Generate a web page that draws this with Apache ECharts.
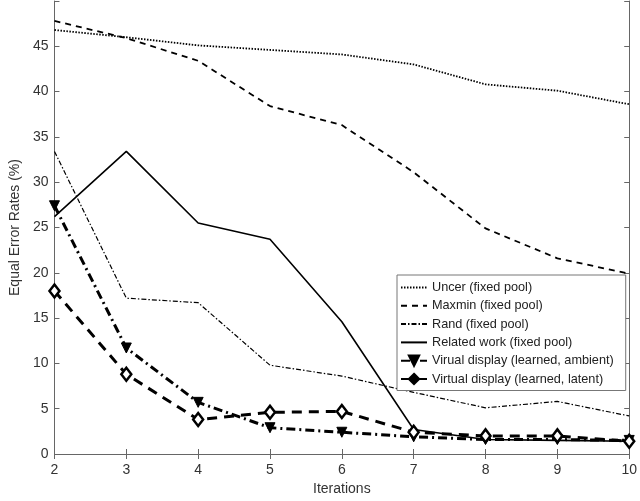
<!DOCTYPE html>
<html>
<head>
<meta charset="utf-8">
<script src="https://cdn.jsdelivr.net/npm/echarts@6/dist/echarts.min.js"></script>
<style>
  html, body { margin: 0; padding: 0; background: #fff; }
  #chart { width: 640px; height: 501px; }
</style>
</head>
<body>
<div id="chart"></div>
<script>
// iterations on x
const iterations = [2, 3, 4, 5, 6, 7, 8, 9, 10]

// equal error rates (%)
const uncer = [46.8, 46.0, 45.1, 44.6, 44.1, 43.0, 40.8, 40.1, 38.6]
const maxmin = [47.8, 45.9, 43.4, 38.4, 36.3, 31.1, 24.9, 21.6, 19.9]
const rand = [33.4, 17.2, 16.7, 9.8, 8.6, 6.8, 5.1, 5.8, 4.2]
const related = [26.2, 33.4, 25.5, 23.7, 14.6, 2.7, 1.6, 1.5, 1.4]
const ambient = [27.4, 11.7, 5.7, 2.9, 2.4, 1.9, 1.6, 1.6, 1.5]
const latent = [18.0, 8.8, 3.8, 4.6, 4.7, 2.4, 2.0, 2.0, 1.4]

const yTicks = [0, 5, 10, 15, 20, 25, 30, 35, 40, 45]

const names = [
  'Uncer (fixed pool)',
  'Maxmin (fixed pool)',
  'Rand (fixed pool)',
  'Related work (fixed pool)',
  'Virual display (learned, ambient)',
  'Virtual display (learned, latent)'
]

const pairs = vals => iterations.map((x, i) => [x, vals[i]])

const chart = echarts.init(document.getElementById('chart'))

const axisColor = '#666'
const labelColor = '#333'
const font = 'Liberation Sans, Arial, sans-serif'

// plain line series (no markers)
const plain = (name, vals, type, width) => ({
  name,
  type: 'line',
  data: pairs(vals),
  symbol: 'none',
  lineStyle: { color: '#000', width: width, type: type },
  itemStyle: { color: '#000' },
  z: 2
})

// hide the dot echarts puts on legend lines for series without markers
const hideDot = { color: 'transparent', borderColor: 'transparent', borderWidth: 0 }

chart.setOption({
  animation: false,
  backgroundColor: '#fff',
  grid: { left: 40, right: 7, top: 1, bottom: 46 },
  xAxis: [
    {
      type: 'value', min: 2, max: 10, interval: 1,
      name: 'Iterations', nameLocation: 'middle', nameGap: 28,
      nameTextStyle: { color: labelColor, fontSize: 14, fontFamily: font },
      axisLine: { show: true, lineStyle: { color: axisColor } },
      axisTick: { show: true, inside: true, length: 5, lineStyle: { color: axisColor } },
      axisLabel: { color: labelColor, fontSize: 14, fontFamily: font, margin: 9 },
      splitLine: { show: false }
    },
    {
      type: 'value', min: 2, max: 10, interval: 1, position: 'top',
      axisLine: { show: true, lineStyle: { color: axisColor } },
      axisTick: { show: true, inside: true, length: 5, lineStyle: { color: axisColor } },
      axisLabel: { show: false },
      splitLine: { show: false }
    }
  ],
  yAxis: [
    {
      type: 'value', min: 0, max: 50, interval: 5,
      name: 'Equal Error Rates (%)', nameLocation: 'middle', nameGap: 27,
      nameTextStyle: { color: labelColor, fontSize: 14, fontFamily: font },
      axisLine: { show: true, lineStyle: { color: axisColor } },
      axisTick: { show: true, inside: true, length: 5, lineStyle: { color: axisColor } },
      axisLabel: {
        color: labelColor, fontSize: 14, fontFamily: font, margin: 6,
        formatter: v => (yTicks.includes(v) ? String(v) : '')
      },
      splitLine: { show: false }
    },
    {
      type: 'value', min: 0, max: 50, interval: 5, position: 'right',
      axisLine: { show: true, lineStyle: { color: axisColor } },
      axisTick: { show: true, inside: true, length: 5, lineStyle: { color: axisColor } },
      axisLabel: { show: false },
      splitLine: { show: false }
    }
  ],
  legend: {
    orient: 'vertical',
    left: 397, top: 275,
    padding: [6, 12, 5, 3],
    itemWidth: 26, itemHeight: 13, itemGap: 5.3,
    backgroundColor: '#fff',
    borderColor: '#777', borderWidth: 1,
    textStyle: { color: '#222', fontSize: 12.7, fontFamily: font },
    data: [
      { name: names[0], itemStyle: hideDot },
      { name: names[1], itemStyle: hideDot },
      { name: names[2], itemStyle: hideDot },
      { name: names[3], itemStyle: hideDot },
      { name: names[4] },
      { name: names[5], itemStyle: { color: '#000' } }
    ]
  },
  series: [
    plain(names[0], uncer, [1.5, 1.5], 1.8),
    plain(names[1], maxmin, [6, 5], 1.8),
    plain(names[2], rand, [5, 2, 1.5, 2], 1.2),
    plain(names[3], related, 'solid', 1.6),
    {
      name: names[4],
      type: 'line',
      data: pairs(ambient),
      symbol: 'triangle', symbolRotate: 180, symbolSize: 10,
      lineStyle: { color: '#000', width: 3, type: [9, 4, 2, 4] },
      itemStyle: { color: '#000', borderColor: '#000', borderWidth: 1 },
      z: 3
    },
    {
      name: names[5],
      type: 'line',
      data: pairs(latent),
      symbol: 'diamond', symbolSize: [10, 13],
      lineStyle: { color: '#000', width: 3, type: [10, 7] },
      itemStyle: { color: '#fff', borderColor: '#000', borderWidth: 2.5 },
      z: 3
    }
  ]
})
</script>
</body>
</html>
